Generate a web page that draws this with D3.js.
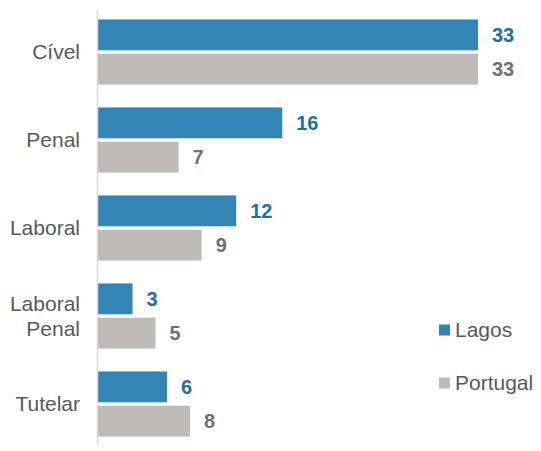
<!DOCTYPE html>
<html><head><meta charset="utf-8">
<script src="https://cdn.jsdelivr.net/npm/d3@7"></script>
<style>body{margin:0;background:#fff}svg{display:block}</style>
</head><body>
<script>
const categories = [["Cível"], ["Penal"], ["Laboral"], ["Laboral", "Penal"], ["Tutelar"]];
const catKeys = ["Cível", "Penal", "Laboral", "Laboral Penal", "Tutelar"];
const seriesNames = ["Lagos", "Portugal"];
const lagos = [33, 16, 12, 3, 6];
const portugal = [33, 7, 9, 5, 8];
const colors = ["#3485b4", "#bfbbba"];
const labelColors = ["#1f6fa3", "#707070"];

const W = 541, H = 451;
const svg = d3.select("body").append("svg").attr("width", W).attr("height", H);

const x0 = 98;
const x = d3.scaleLinear().domain([0, 33]).range([x0, 478]);
const y = d3.scaleBand().domain(catKeys).range([8, 448]).paddingInner(0.26).paddingOuter(0.13);
const inner = d3.scaleBand().domain(seriesNames).range([0, y.bandwidth()]).paddingInner(0.1);

const series = [lagos, portugal];
seriesNames.forEach((s, si) => {
  const g = svg.append("g");
  g.selectAll("rect").data(series[si]).join("rect")
    .attr("x", x(0))
    .attr("y", (d, i) => y(catKeys[i]) + inner(s))
    .attr("width", d => x(d) - x(0))
    .attr("height", inner.bandwidth())
    .attr("fill", colors[si]);
  g.selectAll("text").data(series[si]).join("text")
    .attr("x", d => x(d) + 14)
    .attr("y", (d, i) => y(catKeys[i]) + inner(s) + inner.bandwidth() / 2)
    .attr("dy", "0.35em")
    .attr("font-family", "Arial, 'Liberation Sans', sans-serif")
    .attr("font-size", 20)
    .attr("font-weight", "bold")
    .attr("fill", labelColors[si])
    .text(d => d);
});

// axis line
const yAxis = d3.axisLeft(y).tickSize(0).tickFormat("");
const ag = svg.append("g").attr("transform", `translate(${x0 - 0.5},0)`).call(yAxis);
ag.select(".domain").attr("stroke", "#d9d9d9").attr("stroke-width", 1.5).attr("d", "M0,10V445");

// category labels
categories.forEach((lines, i) => {
  const cy = y(catKeys[i]) + y.bandwidth() / 2;
  const t = svg.append("text")
    .attr("x", 80)
    .attr("text-anchor", "end")
    .attr("font-family", "Arial, 'Liberation Sans', sans-serif")
    .attr("font-size", 21)
    .attr("fill", "#595959");
  const lh = 25;
  lines.forEach((ln, j) => {
    t.append("tspan").attr("x", 80)
      .attr("y", cy + (j - (lines.length - 1) / 2) * lh)
      .attr("dy", "0.35em")
      .text(ln);
  });
});

// legend
const lg = svg.append("g");
seriesNames.forEach((s, i) => {
  const ly = 330 + i * 53;
  lg.append("rect").attr("x", 439).attr("y", ly - 5.5).attr("width", 11).attr("height", 11).attr("fill", colors[i]);
  lg.append("text").attr("x", 455).attr("y", ly).attr("dy", "0.35em")
    .attr("font-family", "Arial, 'Liberation Sans', sans-serif")
    .attr("font-size", 21).attr("fill", "#595959").text(s);
});
</script>
</body></html>
